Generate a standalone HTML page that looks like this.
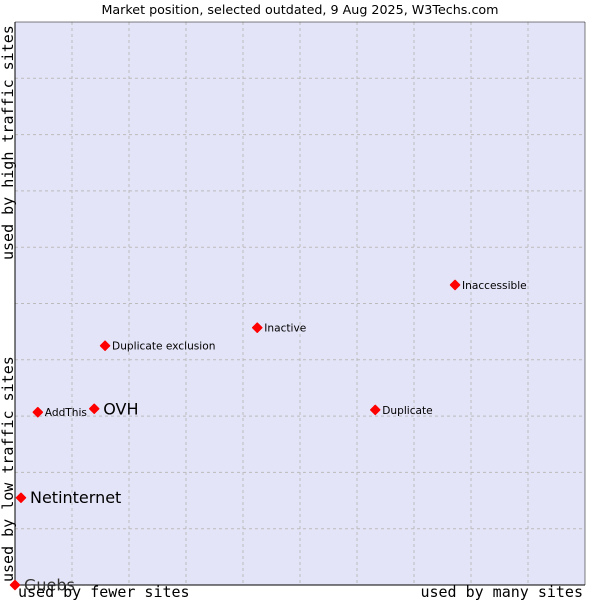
<!DOCTYPE html>
<html><head><meta charset="utf-8"><style>
body{margin:0;background:#fff;}
svg{display:block;}
</style></head><body>
<svg id="chart" width="600" height="600" xmlns="http://www.w3.org/2000/svg">
<text x="300" y="14" text-anchor="middle" font-family="DejaVu Sans, sans-serif" font-size="12.7" fill="#000">Market position, selected outdated, 9 Aug 2025, W3Techs.com</text>
<rect x="15" y="22" width="570" height="563" fill="#e4e4f8"/>
<g id="grid"></g>
<line x1="15" y1="22" x2="15" y2="585" stroke="#000"/>
<line x1="15" y1="585" x2="585" y2="585" stroke="#000"/>
<line x1="15" y1="22" x2="585" y2="22" stroke="#000" stroke-width="0.5"/>
<line x1="585" y1="22" x2="585" y2="585" stroke="#000" stroke-width="0.5"/>
<g id="points"></g>
<text x="18" y="597" font-family="DejaVu Sans Mono, monospace" font-size="15">used by fewer sites</text>
<text x="583" y="597" text-anchor="end" font-family="DejaVu Sans Mono, monospace" font-size="15">used by many sites</text>
<text transform="translate(13,582) rotate(-90)" font-family="DejaVu Sans Mono, monospace" font-size="15">used by low traffic sites</text>
<text transform="translate(13,260) rotate(-90)" font-family="DejaVu Sans Mono, monospace" font-size="15">used by high traffic sites</text>
</svg>
<script>
const names=["Guebs","Netinternet","AddThis","OVH","Duplicate exclusion","Inactive","Duplicate","Inaccessible"];
const xValues=[0,1.05,4.0,13.9,15.8,42.5,63.2,77.2];
const yValues=[0,15.5,30.7,31.3,42.5,45.7,31.1,53.3];
const bigLabel=[true,true,false,true,false,false,false,false];
const NS="http://www.w3.org/2000/svg";
const X0=15,X1=585,Y0=585,Y1=22;
const sx=v=>X0+(X1-X0)*v/100, sy=v=>Y0-(Y0-Y1)*v/100;
const grid=document.getElementById('grid');
for(let i=1;i<10;i++){
 const v=document.createElementNS(NS,'line');
 v.setAttribute('x1',sx(i*10));v.setAttribute('x2',sx(i*10));v.setAttribute('y1',Y1);v.setAttribute('y2',Y0);
 v.setAttribute('stroke','#bbb');v.setAttribute('stroke-dasharray','3,3');
 
 
 grid.appendChild(v);
 const h=document.createElementNS(NS,'line');
 h.setAttribute('y1',sy(i*10));h.setAttribute('y2',sy(i*10));h.setAttribute('x1',X0);h.setAttribute('x2',X1);
 h.setAttribute('stroke','#bbb');h.setAttribute('stroke-dasharray','3,3');
 
 
 grid.appendChild(h);
}
const pts=document.getElementById('points');
names.forEach((n,i)=>{
 const x=sx(xValues[i]),y=sy(yValues[i]);
 const d=document.createElementNS(NS,'path');
 d.setAttribute('d',`M${x} ${y-4.5}L${x+4.5} ${y}L${x} ${y+4.5}L${x-4.5} ${y}Z`);
 d.setAttribute('fill','#f00');
 d.setAttribute('stroke','#f00');
 d.setAttribute('stroke-width','1.5');
 d.setAttribute('stroke-linejoin','round');
 
 
 pts.appendChild(d);
 const t=document.createElementNS(NS,'text');
 t.setAttribute('x',x+(bigLabel[i]?9:7));
 t.setAttribute('y',y+(bigLabel[i]?5.5:4));
 t.setAttribute('font-family','DejaVu Sans, sans-serif');
 t.setAttribute('font-size',bigLabel[i]?'16':'10.6');
 t.setAttribute('fill',i===0?'#333':'#000');
 t.textContent=n;
 
 
 pts.appendChild(t);
});
</script>
</body></html>
